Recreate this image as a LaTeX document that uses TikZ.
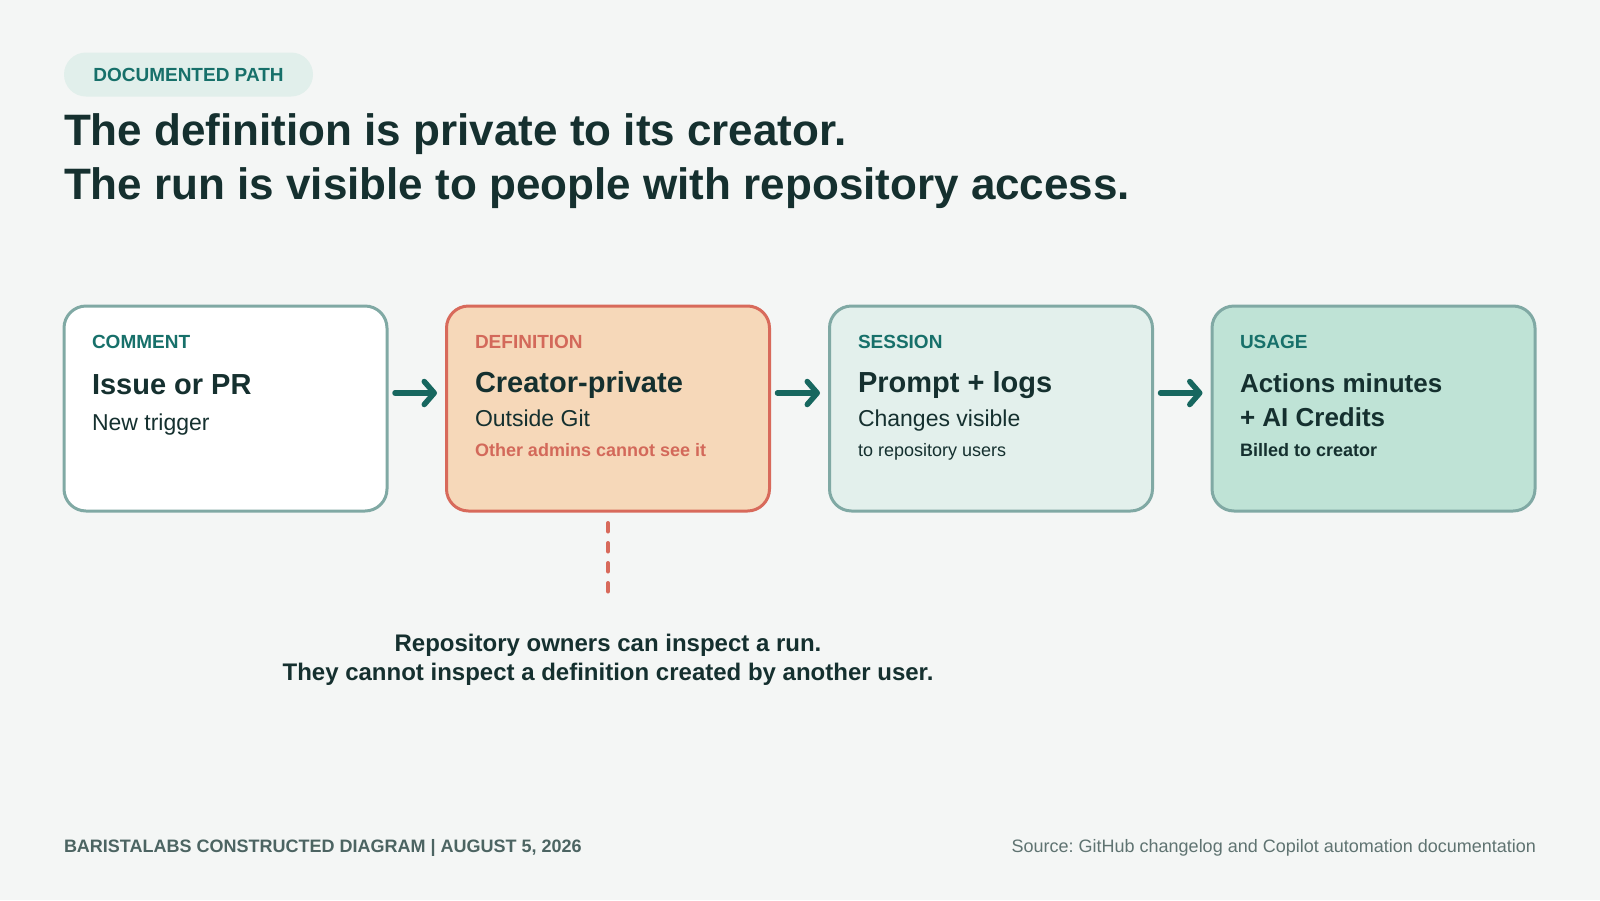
\documentclass[tikz,border=0pt]{standalone}
\usepackage{fontspec}
\setmainfont{Liberation Sans}
\usetikzlibrary{arrows.meta}
\frenchspacing
\definecolor{bg}{HTML}{F4F6F5}
\definecolor{pillfill}{HTML}{E1EFEB}
\definecolor{tealtxt}{HTML}{17706A}
\definecolor{dark}{HTML}{15302F}
\definecolor{boxline}{HTML}{80A9A4}
\definecolor{defline}{HTML}{D86A5B}
\definecolor{deffill}{HTML}{F6D8B9}
\definecolor{deflabel}{HTML}{D3695A}
\definecolor{sessfill}{HTML}{E3F0EC}
\definecolor{usefill}{HTML}{BFE3D6}
\definecolor{arrowc}{HTML}{17675F}
\definecolor{foot}{HTML}{4C6462}
\definecolor{srcc}{HTML}{5F7371}
\newcommand{\setfs}[1]{\fontsize{#1}{#1}\selectfont}
\begin{document}
\begin{tikzpicture}[x=1pt,y=-1pt,
  every node/.style={inner sep=0pt, outer sep=0pt},
  card/.style={rounded corners=22pt, line width=3pt, minimum width=323pt, minimum height=205pt, draw=boxline},
  pill/.style={fill=pillfill, rounded corners=22pt, minimum width=249pt, minimum height=44pt, text height=13.6pt, text depth=0pt, font=\bfseries\setfs{19}, text=tealtxt},
  lbl/.style={anchor=base west, font=\bfseries\setfs{19}, text=tealtxt},
  head/.style={anchor=base west, font=\bfseries\setfs{29}, text=dark},
  head2/.style={anchor=base west, font=\bfseries\setfs{26}, text=dark},
  sub/.style={anchor=base west, font=\setfs{23}, text=dark},
  note/.style={anchor=base west, font=\setfs{18}, text=dark},
  boldnote/.style={anchor=base west, font=\bfseries\setfs{18}, text=dark},
  flow/.style={draw=arrowc, line width=5.5pt, line cap=round, -{Straight Barb[length=10pt,width=23pt,line cap=round,line join=round]}, shorten <=8pt, shorten >=9.5pt},
  dashline/.style={draw=defline, line width=4pt, line cap=round, dash pattern=on 8.5pt off 11.5pt},
  titletxt/.style={anchor=base west, font=\bfseries\setfs{44}, text=dark},
  msgtxt/.style={anchor=base, font=\bfseries\setfs{24}, text=dark}
]
\fill[bg] (0,0) rectangle (1600,900);
\useasboundingbox (0,0) rectangle (1600,900);

\node[pill] (tag) at (188.5,74.5) {DOCUMENTED PATH};
\node[titletxt] (title1) at (64,145) {The definition is private to its creator.};
\node[titletxt] (title2) at (64,199) {The run is visible to people with repository access.};

\node[card, fill=white] (c1) at (225.5,408.5) {};
\node[card, fill=deffill, draw=defline] (c2) at (608,408.5) {};
\node[card, fill=sessfill] (c3) at (991,408.5) {};
\node[card, fill=usefill] (c4) at (1373.5,408.5) {};

\node[lbl] (l1) at (92,348) {COMMENT};
\node[head] (h1) at (92,394) {Issue or PR};
\node[sub] (s1) at (92,430) {New trigger};

\node[lbl, text=deflabel] (l2) at (475,348) {DEFINITION};
\node[head] (h2) at (475,392) {Creator-private};
\node[sub] (s2) at (475,426) {Outside Git};
\node[boldnote, text=deflabel] (n2) at (475,456) {Other admins cannot see it};

\node[lbl] (l3) at (858,348) {SESSION};
\node[head] (h3) at (858,392) {Prompt + logs};
\node[sub] (s3) at (858,426) {Changes visible};
\node[note] (n3) at (858,456) {to repository users};

\node[lbl] (l4) at (1240,348) {USAGE};
\node[head2] (h4) at (1240,392) {Actions minutes};
\node[head2] (h4b) at (1240,426) {+ AI Credits};
\node[boldnote] (n4) at (1240,456) {Billed to creator};

\draw[flow] ([yshift=15.5pt]c1.east) -- ([yshift=15.5pt]c2.west);
\draw[flow] ([yshift=15.5pt]c2.east) -- ([yshift=15.5pt]c3.west);
\draw[flow] ([yshift=15.5pt]c3.east) -- ([yshift=15.5pt]c4.west);

\coordinate (dashend) at (608,594);
\draw[dashline] ([yshift=-12pt]c2.south) -- (dashend);

\node[msgtxt] (msg1) at (608,651) {Repository owners can inspect a run.};
\node[msgtxt] (msg2) at (608,680) {They cannot inspect a definition created by another user.};

\node[anchor=base west, font=\bfseries\setfs{18}, text=foot] (credit) at (64,852) {BARISTALABS CONSTRUCTED DIAGRAM | AUGUST 5, 2026};
\node[anchor=base east, font=\setfs{18}, text=srcc] (source) at (1536,852) {Source: GitHub changelog and Copilot automation documentation};
\end{tikzpicture}
\end{document}
